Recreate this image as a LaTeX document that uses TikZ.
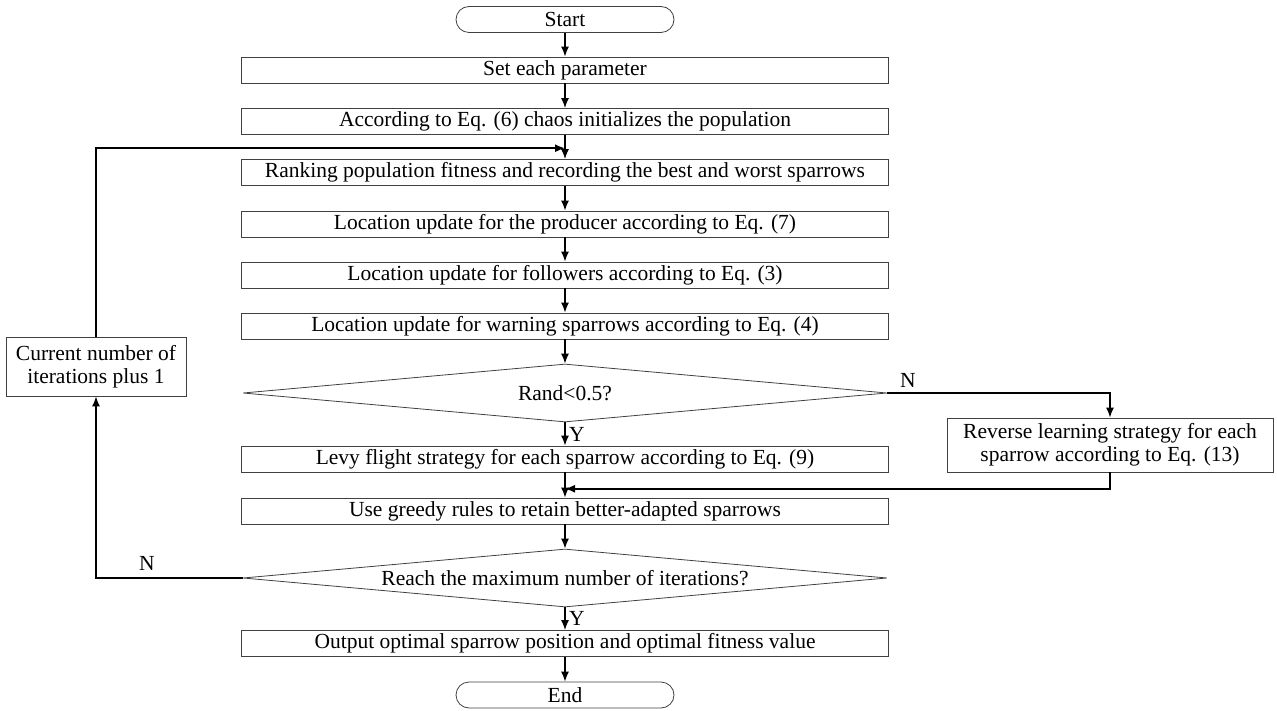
\documentclass[tikz,border=0pt]{standalone}
\usepackage{fontspec}
\setmainfont{Liberation Serif}
\usetikzlibrary{arrows.meta,calc,shapes.geometric,positioning}
\tikzset{
  flow/.style={-{Latex[length=10pt,width=8pt]},line width=1.5pt},
  procbox/.style={draw=black!75,line width=0.8pt,minimum width=647pt,minimum height=26pt,
                  inner sep=0pt,font=\fontsize{21.5}{23}\selectfont},
  sidebox/.style={procbox,minimum width=0pt,align=center,inner sep=4pt},
  terminal/.style={procbox,minimum width=218pt,rounded corners=13pt},
  decision/.style={diamond,draw=black!75,line width=0.8pt,minimum width=644pt,minimum height=58pt,
                   inner sep=0pt,aspect=10,font=\fontsize{21.5}{23}\selectfont},
  lab/.style={font=\fontsize{21.5}{23}\selectfont},
}
\begin{document}
\begin{tikzpicture}[x=1pt,y=-1pt]
  \path[use as bounding box] (0,0) rectangle (1277,711);

  % main column
  \node[terminal] (start) at (565,19.5) {Start};
  \node[procbox] (setpar) at (565,70) {Set each parameter};
  \node[procbox] (chaos) at (565,121.5) {According to Eq. (6) chaos initializes the population};
  \node[procbox] (rank) at (565,172.5) {Ranking population fitness and recording the best and worst sparrows};
  \node[procbox] (producer) at (565,224) {Location update for the producer according to Eq. (7)};
  \node[procbox] (follower) at (565,275) {Location update for followers according to Eq. (3)};
  \node[procbox] (warning) at (565,326) {Location update for warning sparrows according to Eq. (4)};
  \node[decision] (randq) at (565,393) {Rand<0.5?};
  \node[procbox] (levy) at (565,459) {Levy flight strategy for each sparrow according to Eq. (9)};
  \node[procbox] (greedy) at (565,511) {Use greedy rules to retain better-adapted sparrows};
  \node[decision] (maxq) at (565,578) {Reach the maximum number of iterations?};
  \node[procbox] (output) at (565,643.5) {Output optimal sparrow position and optimal fitness value};
  \node[terminal] (finish) at (565,695) {End};

  % side boxes
  \node[sidebox,minimum width=180pt,minimum height=59pt] (plusone) at (96,366.5)
    {Current number of\\iterations plus 1};
  \node[sidebox,minimum width=326pt,minimum height=54pt] (reverse) at (1110,445)
    {Reverse learning strategy for each\\sparrow according to Eq. (13)};

  \coordinate (loopin) at ($(chaos.south)!0.55!(rank.north)$);
  \coordinate (backin) at ($(levy.south)!0.65!(greedy.north)$);

  \draw[flow] (start) -- (setpar);
  \draw[flow] (setpar) -- (chaos);
  \draw[flow] (chaos) -- (rank);
  \draw[flow] (rank) -- (producer);
  \draw[flow] (producer) -- (follower);
  \draw[flow] (follower) -- (warning);
  \draw[flow] (warning) -- (randq);
  \draw[flow] (randq) -- node[lab,right,pos=0.5] {Y} (levy);
  \draw[flow] (levy) -- (greedy);
  \draw[flow] (greedy) -- (maxq);
  \draw[flow] (maxq) -- node[lab,right,pos=0.5] {Y} (output);
  \draw[flow] (output) -- (finish);

  \draw[flow] (randq.east) -| (reverse.north);
  \node[lab] at (908,380) {N};
  \draw[flow] (reverse.south) |- (backin);

  \draw[flow] (maxq.west) -| (plusone.south);
  \node[lab] at (147,563) {N};
  \draw[flow] (plusone.north) |- (loopin);
\end{tikzpicture}
\end{document}
